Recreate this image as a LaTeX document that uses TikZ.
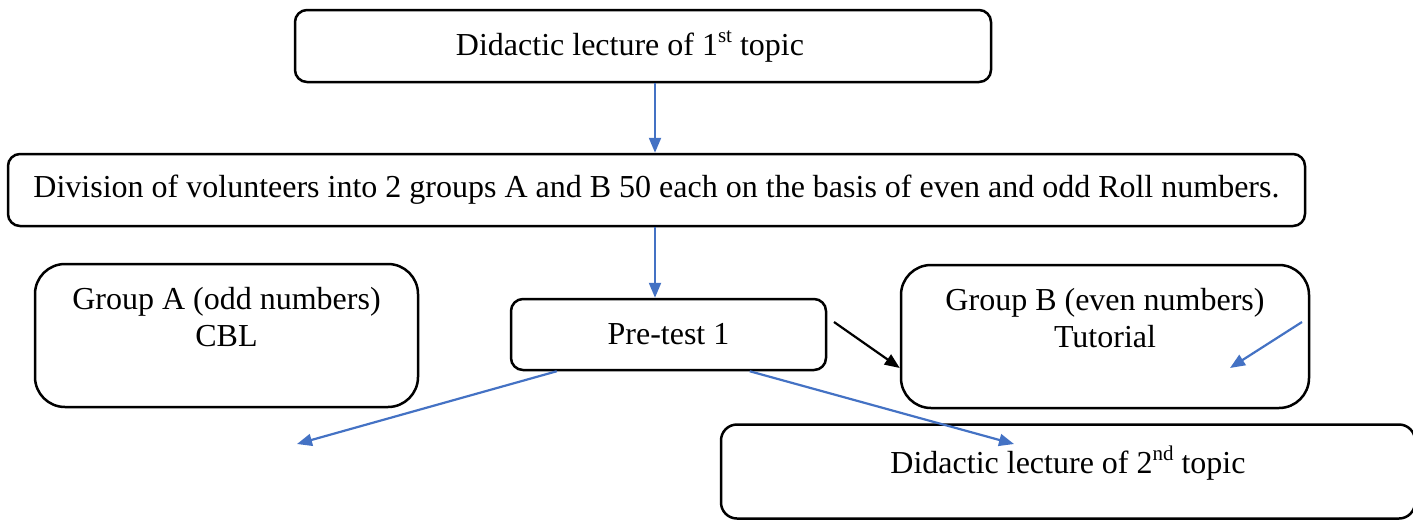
\documentclass[tikz,border=0pt]{standalone}
\usepackage{fontspec}
\setmainfont{Liberation Serif}
\usetikzlibrary{arrows.meta,calc}
\definecolor{arrblue}{RGB}{68,114,196}
\newcommand\mysupx[1]{\raisebox{13pt}{\fontsize{21}{21}\selectfont #1}}
\tikzset{
  box/.style={draw=black,line width=2.5pt,fill=white,inner sep=0pt,
    font=\fontsize{32}{37}\selectfont,align=center},
  txt/.style={font=\fontsize{32}{37}\selectfont,align=center,inner sep=0pt},
  barrow/.style={draw=arrblue,line width=2.2pt,-{Triangle[length=15pt,width=12pt]}},
  karrow/.style={draw=black,line width=2.2pt,-{Triangle[length=15pt,width=12pt]}}
}
\begin{document}
\begin{tikzpicture}[x=1pt,y=-1pt]
\useasboundingbox (0,0) rectangle (1413,520);
\node[box,rounded corners=12pt,minimum width=696pt,minimum height=72pt] (b1) at (643,46) {\hspace*{-26pt}Didactic lecture of 1\mysupx{st} topic};
\node[box,rounded corners=12pt,minimum width=1297pt,minimum height=72pt] (b2) at (656.5,190) {Division of volunteers into 2 groups A and B 50 each on the basis of even and odd Roll numbers.};
\node[box,rounded corners=12pt,minimum width=315pt,minimum height=71pt] (pt) at (668.5,334.5) {Pre-test 1};
\node[box,rounded corners=30pt,minimum width=383pt,minimum height=143pt,
  label={[txt,anchor=north,yshift=-24pt]north:Group A (odd numbers)\\CBL}] (ga) at (226.5,335.5) {};
\node[box,rounded corners=30pt,minimum width=408pt,minimum height=143pt,
  label={[txt,anchor=north,yshift=-24pt]north:Group B (even numbers)\\Tutorial}] (gb) at (1105,336.5) {};
\node[box,rounded corners=16pt,minimum width=694pt,minimum height=94pt,
  label={[txt,anchor=north,yshift=-22pt]north:Didactic lecture of 2\mysupx{nd} topic}] (b3) at (1068,471.5) {};
\coordinate (k1) at (834,322);
\coordinate (s1) at (1302,322);
\coordinate (s2) at (1230,368);
\coordinate (e1) at (297,444);
\coordinate (e2) at (1014,444);
\draw[barrow] (b1.south -| b2.north) ++(-1.5,0) -- ($(b2.north)+(-1.5,0)$);
\draw[barrow] ($(b2.south)+(-1.5,0)$) -- ($(b2.south |- pt.north)+(-1.5,0)$);
\draw[karrow] (k1) -- ($(gb.west)+(0,31.5)$);
\draw[barrow] (s1) -- (s2);
\draw[barrow] ($(pt.south west)+(47,0)$) -- (e1);
\draw[barrow] ($(pt.south west)+(240,0)$) -- (e2);
\end{tikzpicture}
\end{document}
